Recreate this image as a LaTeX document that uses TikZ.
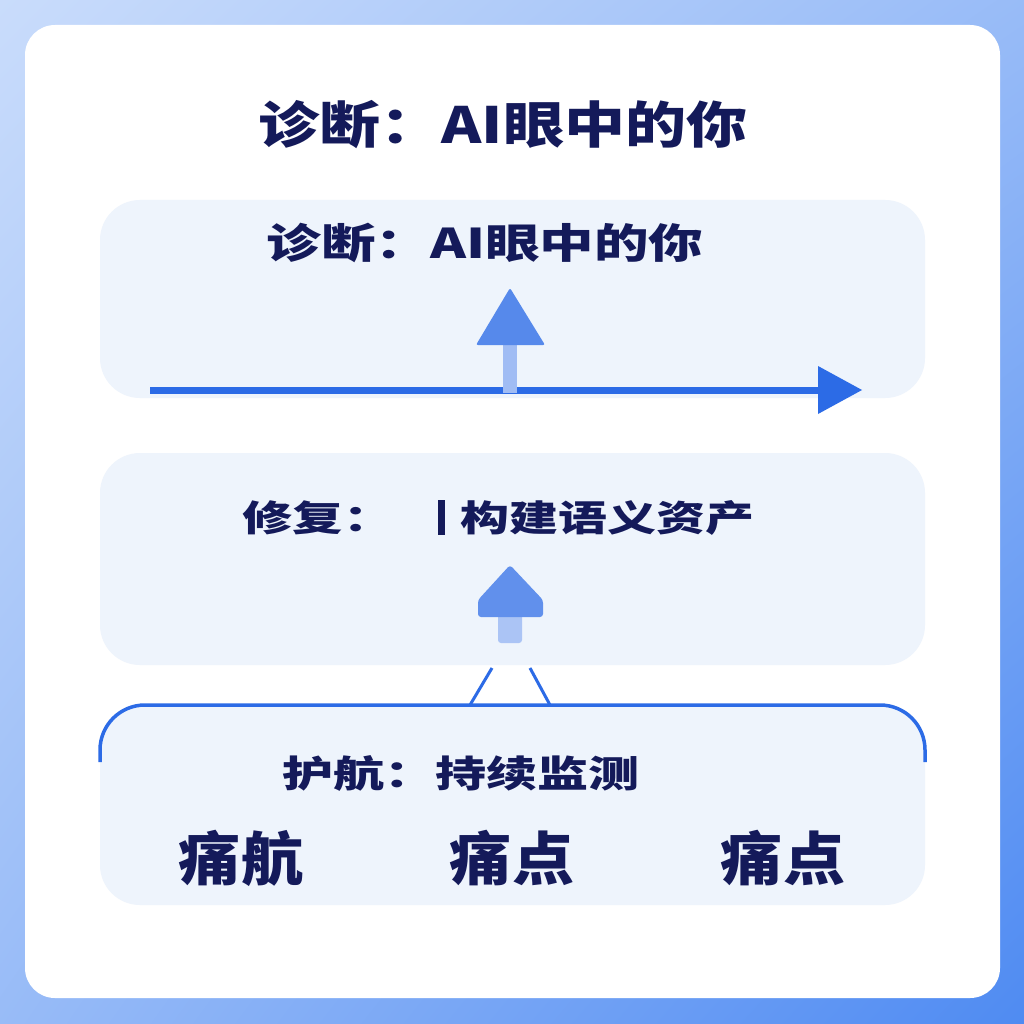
\documentclass[tikz,border=0pt]{standalone}
\usepackage{fontspec}
\setmainfont{Noto Sans CJK SC}
\usetikzlibrary{shadings}
\definecolor{navy}{HTML}{141A5A}
\definecolor{pblue}{HTML}{2C6BE6}
\definecolor{panel}{HTML}{EEF4FC}
\definecolor{bgA}{HTML}{C9DCFB}
\definecolor{bgB}{HTML}{4F8BF2}
\begin{document}
\begin{tikzpicture}[x=1pt,y=-1pt,
  panelbox/.style={fill=panel,rounded corners=40pt,draw=none},
  t/.style={text=navy,font=\bfseries,inner sep=0pt}]
\useasboundingbox (0,0) rectangle (1024,1024);
\shade[upper left=bgA,upper right=bgA!60!bgB,lower left=bgA!60!bgB,lower right=bgB] (0,0) rectangle (1024,1024);
\fill[white,rounded corners=30pt] (25,25) rectangle (1000,998);
\node[t,font=\fontsize{50}{50}\selectfont\bfseries] (title) at (503,125) {\scalebox{1.22}[1]{诊断：AI眼中的你}};
% panel 1
\fill[panelbox] (100,200) rectangle (925,398);
\node[t,font=\fontsize{41}{41}\selectfont\bfseries] (p1) at (485,243) {\scalebox{1.33}[1]{诊断：AI眼中的你}};
\coordinate (a1) at (150,390); \coordinate (a2) at (822,390); \coordinate (tip) at (862,390);
\draw[pblue,line width=7pt] (a1) -- (a2);
\fill[pblue] (tip) -- (818,366) -- (818,414) -- cycle;
\fill[pblue!45] (503,345) rectangle (517,393);
\fill[pblue!80,rounded corners=2pt] (510,288) -- (545,345) -- (476,345) -- cycle;
% panel 2
\fill[panelbox] (100,453) rectangle (925,665);
\node[t,font=\fontsize{36}{36}\selectfont\bfseries,anchor=west] (p2a) at (242,518) {\scalebox{1.4}[1]{修复：}};
\fill[navy] (438,500) rectangle (445,535);
\node[t,font=\fontsize{36}{36}\selectfont\bfseries,anchor=west] (p2b) at (460,518) {\scalebox{1.36}[1]{构建语义资产}};
\fill[pblue!40,rounded corners=3pt] (498,612) rectangle (522,643);
\fill[pblue!75,rounded corners=3pt] (510,565) -- (543,600) -- (543,617) -- (478,617) -- (478,600) -- cycle;
\coordinate (l1) at (492,668); \coordinate (l2) at (470,705);
\coordinate (r1) at (530,668); \coordinate (r2) at (550,705);
\draw[pblue,line width=3pt] (l1) -- (l2) (r1) -- (r2);
% panel 3
\fill[panelbox] (100,705) rectangle (925,905);
\draw[pblue,line width=3.5pt,rounded corners=45pt] (100,762) -- (100,705) -- (925,705) -- (925,762);
\node[t,font=\fontsize{37}{37}\selectfont\bfseries] (p3) at (461,773) {\scalebox{1.38}[1]{护航：持续监测}};
\node[t,font=\fontsize{58}{58}\selectfont\bfseries] (c1) at (241,858) {\scalebox{1.07}[1]{痛航}};
\node[t,font=\fontsize{58}{58}\selectfont\bfseries] (c2) at (512,858) {\scalebox{1.07}[1]{痛点}};
\node[t,font=\fontsize{58}{58}\selectfont\bfseries] (c3) at (783,858) {\scalebox{1.07}[1]{痛点}};
\end{tikzpicture}
\end{document}
